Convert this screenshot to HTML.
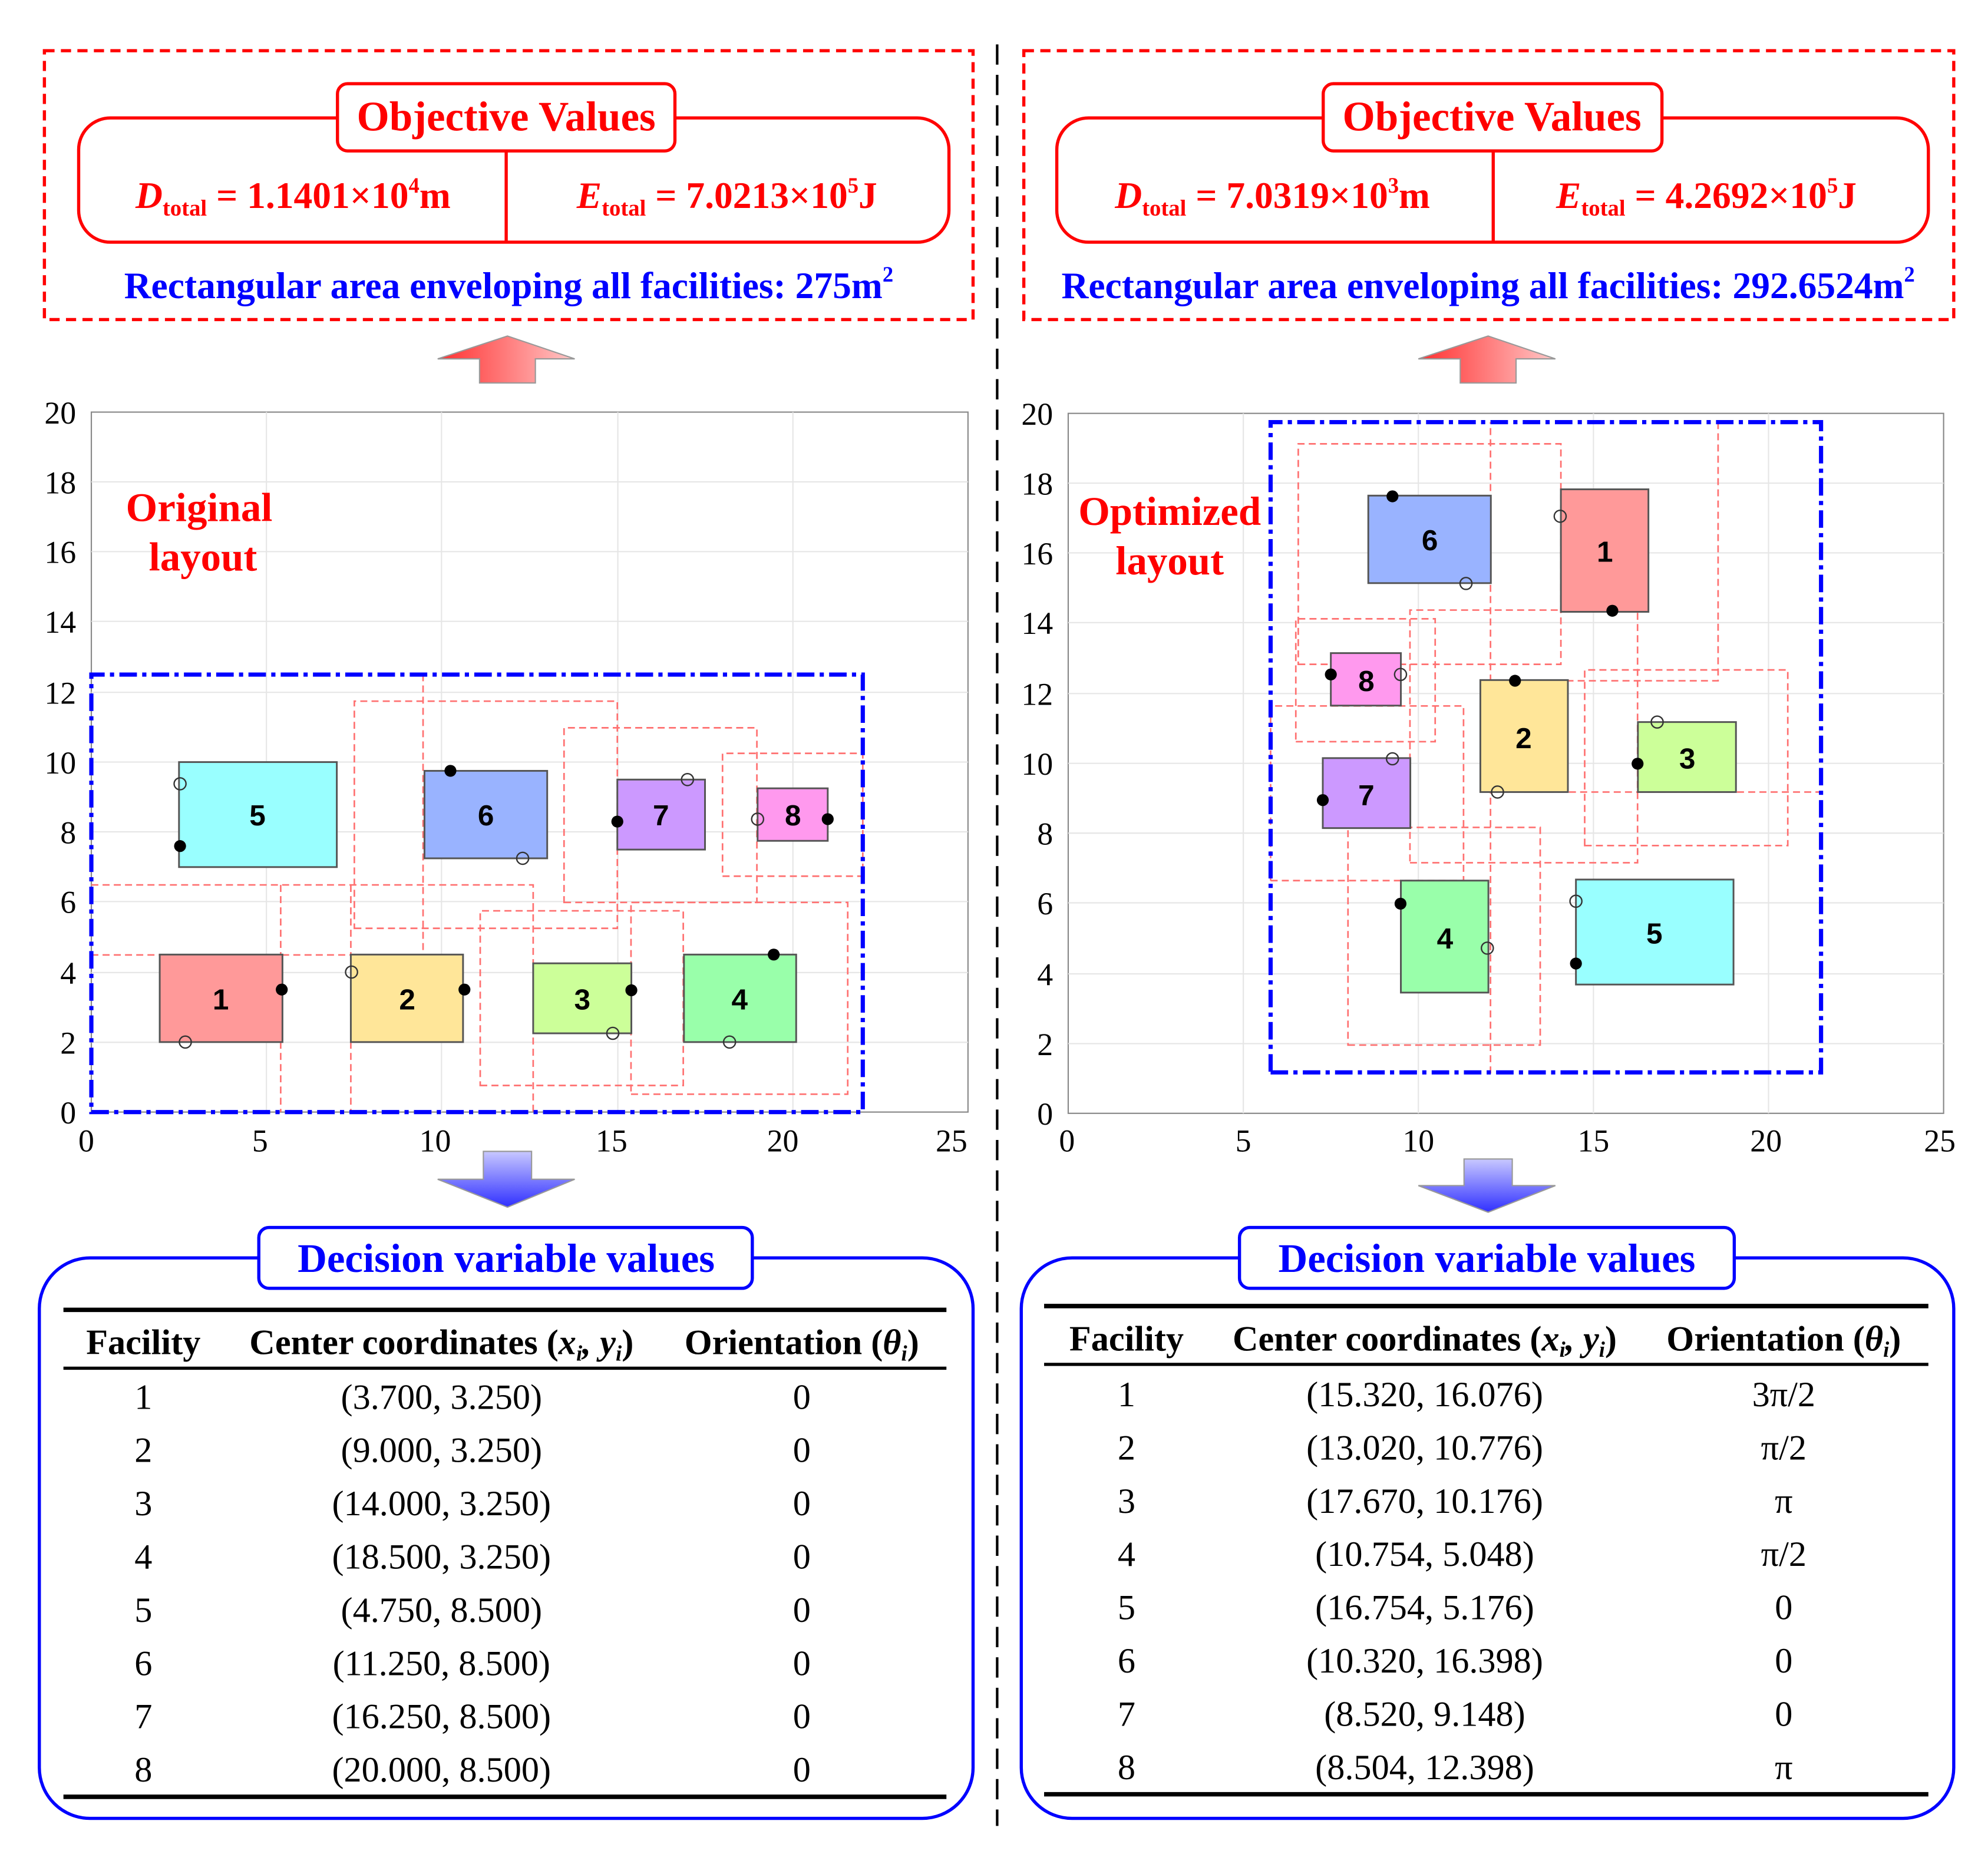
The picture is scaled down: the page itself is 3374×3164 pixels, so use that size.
<!DOCTYPE html>
<html><head><meta charset="utf-8"><style>
html,body{margin:0;padding:0;background:#fff;}
svg{display:block;}
.t{font-family:"Liberation Serif",serif;}
</style></head><body>
<svg width="3374" height="3164" viewBox="0 0 1567 1470" preserveAspectRatio="none" xmlns="http://www.w3.org/2000/svg" class="t">
<defs>
<linearGradient id="rg" x1="0" x2="1" y1="0" y2="0"><stop offset="0" stop-color="#ff3030"/><stop offset="1" stop-color="#ffc8c8"/></linearGradient>
<linearGradient id="bg" x1="0" x2="0" y1="0" y2="1"><stop offset="0" stop-color="#c8c8ff"/><stop offset="1" stop-color="#3030ff"/></linearGradient>
</defs>
<rect width="1567" height="1470" fill="#fff"/>
<line x1="786" y1="35" x2="786" y2="1440" stroke="#000" stroke-width="2" stroke-dasharray="16,8"/>

<!-- TOP LEFT -->
<rect x="35" y="40" width="732" height="212" fill="none" stroke="#f00" stroke-width="2.5" stroke-dasharray="8,5"/>
<rect x="62" y="93" width="686" height="98" rx="25" fill="none" stroke="#f00" stroke-width="2.5"/>
<line x1="399" y1="119" x2="399" y2="191" stroke="#f00" stroke-width="2.5"/>
<rect x="266" y="66" width="266" height="53" rx="8" fill="#fff" stroke="#f00" stroke-width="2.5"/>
<text x="399" y="103" text-anchor="middle" font-size="33" font-weight="bold" fill="#f00">Objective Values</text>
<text x="231" y="164" text-anchor="middle" font-size="29.5" font-weight="bold" fill="#f00"><tspan font-style="italic">D</tspan><tspan font-size="18" dy="6">total</tspan><tspan dy="-6"> = 1.1401×10</tspan><tspan font-size="17" dy="-12">4</tspan><tspan dy="12">m</tspan></text>
<text x="573" y="164" text-anchor="middle" font-size="29.5" font-weight="bold" fill="#f00"><tspan font-style="italic">E</tspan><tspan font-size="18" dy="6">total</tspan><tspan dy="-6"> = 7.0213×10</tspan><tspan font-size="17" dy="-12">5</tspan><tspan dy="12">J</tspan></text>
<text x="401" y="235" text-anchor="middle" font-size="29.5" font-weight="bold" fill="#00f">Rectangular area enveloping all facilities: 275m<tspan font-size="17" dy="-13">2</tspan></text>

<!-- TOP RIGHT -->
<rect x="807" y="40" width="733" height="212" fill="none" stroke="#f00" stroke-width="2.5" stroke-dasharray="8,5"/>
<rect x="833" y="93" width="687" height="98" rx="25" fill="none" stroke="#f00" stroke-width="2.5"/>
<line x1="1177" y1="119" x2="1177" y2="191" stroke="#f00" stroke-width="2.5"/>
<rect x="1043" y="66" width="267" height="53" rx="8" fill="#fff" stroke="#f00" stroke-width="2.5"/>
<text x="1176" y="103" text-anchor="middle" font-size="33" font-weight="bold" fill="#f00">Objective Values</text>
<text x="1003" y="164" text-anchor="middle" font-size="29.5" font-weight="bold" fill="#f00"><tspan font-style="italic">D</tspan><tspan font-size="18" dy="6">total</tspan><tspan dy="-6"> = 7.0319×10</tspan><tspan font-size="17" dy="-12">3</tspan><tspan dy="12">m</tspan></text>
<text x="1345" y="164" text-anchor="middle" font-size="29.5" font-weight="bold" fill="#f00"><tspan font-style="italic">E</tspan><tspan font-size="18" dy="6">total</tspan><tspan dy="-6"> = 4.2692×10</tspan><tspan font-size="17" dy="-12">5</tspan><tspan dy="12">J</tspan></text>
<text x="1173" y="235" text-anchor="middle" font-size="29.5" font-weight="bold" fill="#00f">Rectangular area enveloping all facilities: 292.6524m<tspan font-size="17" dy="-13">2</tspan></text>

<!-- arrows -->
<polygon points="400,265 453,283 422,283 422,302 378,302 378,283 345,283" fill="url(#rg)" stroke="#999" stroke-width="1"/>
<polygon points="1173,265 1226,283 1195,283 1195,302 1151,302 1151,283 1118,283" fill="url(#rg)" stroke="#999" stroke-width="1"/>
<polygon points="381,908 419,908 419,930 453,930 400,952 345,930 381,930" fill="url(#bg)" stroke="#999" stroke-width="1"/>
<polygon points="1154,914 1192,914 1192,935 1226,935 1173,956 1118,935 1154,935" fill="url(#bg)" stroke="#999" stroke-width="1"/>

<!-- LEFT PLOT -->
<g font-size="25" fill="#000">
<rect x="72" y="325" width="691" height="552" fill="#fff" stroke="#888" stroke-width="1"/>
<g stroke="#e6e6e6" stroke-width="1">
<line x1="210" y1="325" x2="210" y2="877"/><line x1="348" y1="325" x2="348" y2="877"/><line x1="487" y1="325" x2="487" y2="877"/><line x1="625" y1="325" x2="625" y2="877"/>
<line x1="72" y1="380" x2="763" y2="380"/><line x1="72" y1="435" x2="763" y2="435"/><line x1="72" y1="490" x2="763" y2="490"/><line x1="72" y1="546" x2="763" y2="546"/><line x1="72" y1="601" x2="763" y2="601"/><line x1="72" y1="656" x2="763" y2="656"/><line x1="72" y1="711" x2="763" y2="711"/><line x1="72" y1="767" x2="763" y2="767"/><line x1="72" y1="822" x2="763" y2="822"/>
</g>
<g text-anchor="end">
<text x="60" y="886">0</text><text x="60" y="831">2</text><text x="60" y="776">4</text><text x="60" y="720">6</text><text x="60" y="665">8</text><text x="60" y="610">10</text><text x="60" y="555">12</text><text x="60" y="499">14</text><text x="60" y="444">16</text><text x="60" y="389">18</text><text x="60" y="334">20</text>
</g>
<g text-anchor="middle">
<text x="68" y="908">0</text><text x="205" y="908">5</text><text x="343" y="908">10</text><text x="482" y="908">15</text><text x="617" y="908">20</text><text x="750" y="908">25</text>
</g>
</g>
<text x="157" y="411" text-anchor="middle" font-size="32" font-weight="bold" fill="#f00">Original</text>
<text x="160" y="450" text-anchor="middle" font-size="32" font-weight="bold" fill="#f00">layout</text>

<g transform="translate(72,877) scale(27.64,-27.6)">
 <g fill="none" stroke="#ff7070" stroke-width="0.045" stroke-dasharray="0.2,0.12">
  <rect x="7.5" y="5.25" width="7.5" height="6.49"/>
  <rect x="13.48" y="5.99" width="5.5" height="4.99"/>
  <rect x="18" y="6.74" width="4" height="3.51"/>
  <polyline points="0,6.49 12.6,6.49 12.6,0"/>
  <polyline points="0,4.49 9.46,4.49 9.46,12.5"/>
  <line x1="5.4" y1="6.49" x2="5.4" y2="0"/>
  <line x1="7.4" y1="6.49" x2="7.4" y2="0"/>
  <rect x="11.09" y="0.76" width="5.79" height="4.99"/>
  <rect x="15.39" y="0.51" width="6.18" height="5.48"/>
 </g>
 <g stroke="#555" stroke-width="0.05">
  <rect x="1.95" y="2" width="3.5" height="2.5" fill="#ff9999"/>
  <rect x="7.4" y="2" width="3.2" height="2.5" fill="#ffe699"/>
  <rect x="12.6" y="2.25" width="2.8" height="2" fill="#ccff99"/>
  <rect x="16.9" y="2" width="3.2" height="2.5" fill="#99ffaa"/>
  <rect x="2.5" y="7" width="4.5" height="3" fill="#99ffff"/>
  <rect x="9.5" y="7.25" width="3.5" height="2.5" fill="#99b3ff"/>
  <rect x="15" y="7.5" width="2.5" height="2" fill="#cc99ff"/>
  <rect x="19" y="7.75" width="2" height="1.5" fill="#ff99ee"/>
 </g>
 <rect x="0" y="0" width="22" height="12.5" fill="none" stroke="#00f" stroke-width="0.12" stroke-dasharray="0.5,0.15,0.12,0.15"/>
 <g fill="#000">
  <circle cx="2.53" cy="7.6" r="0.17"/><circle cx="10.24" cy="9.75" r="0.17"/><circle cx="15.0" cy="8.3" r="0.17"/><circle cx="21.0" cy="8.37" r="0.17"/>
  <circle cx="5.43" cy="3.5" r="0.17"/><circle cx="10.64" cy="3.5" r="0.17"/><circle cx="15.4" cy="3.48" r="0.17"/><circle cx="19.46" cy="4.5" r="0.17"/>
 </g>
 <g fill="none" stroke="#333" stroke-width="0.04">
  <circle cx="2.53" cy="9.38" r="0.17"/><circle cx="12.3" cy="7.25" r="0.17"/><circle cx="17.0" cy="9.5" r="0.17"/><circle cx="19.0" cy="8.37" r="0.17"/>
  <circle cx="2.68" cy="2.0" r="0.17"/><circle cx="7.42" cy="4.0" r="0.17"/><circle cx="14.87" cy="2.25" r="0.17"/><circle cx="18.2" cy="2.0" r="0.17"/>
 </g>
</g>
<g font-family="Liberation Sans,sans-serif" font-weight="bold" font-size="23" text-anchor="middle">
<text x="174" y="796">1</text><text x="321" y="796">2</text><text x="459" y="796">3</text><text x="583" y="796">4</text>
<text x="203" y="651">5</text><text x="383" y="651">6</text><text x="521" y="651">7</text><text x="625" y="651">8</text>
</g>

<!-- RIGHT PLOT -->
<g font-size="25" fill="#000">
<rect x="842" y="326" width="690" height="552" fill="#fff" stroke="#888" stroke-width="1"/>
<g stroke="#e6e6e6" stroke-width="1">
<line x1="980" y1="326" x2="980" y2="878"/><line x1="1118" y1="326" x2="1118" y2="878"/><line x1="1256" y1="326" x2="1256" y2="878"/><line x1="1394" y1="326" x2="1394" y2="878"/>
<line x1="842" y1="381" x2="1532" y2="381"/><line x1="842" y1="436" x2="1532" y2="436"/><line x1="842" y1="491" x2="1532" y2="491"/><line x1="842" y1="547" x2="1532" y2="547"/><line x1="842" y1="602" x2="1532" y2="602"/><line x1="842" y1="657" x2="1532" y2="657"/><line x1="842" y1="712" x2="1532" y2="712"/><line x1="842" y1="768" x2="1532" y2="768"/><line x1="842" y1="823" x2="1532" y2="823"/>
</g>
<g text-anchor="end">
<text x="830" y="887">0</text><text x="830" y="832">2</text><text x="830" y="777">4</text><text x="830" y="721">6</text><text x="830" y="666">8</text><text x="830" y="611">10</text><text x="830" y="556">12</text><text x="830" y="500">14</text><text x="830" y="445">16</text><text x="830" y="390">18</text><text x="830" y="335">20</text>
</g>
<g text-anchor="middle">
<text x="841" y="908">0</text><text x="980" y="908">5</text><text x="1118" y="908">10</text><text x="1256" y="908">15</text><text x="1392" y="908">20</text><text x="1529" y="908">25</text>
</g>
</g>
<g transform="translate(842,878) scale(27.6,-27.6)">
 <g fill="none" stroke="#ff7070" stroke-width="0.045" stroke-dasharray="0.2,0.12">
  <rect x="6.57" y="12.83" width="7.5" height="6.3"/>
  <polyline points="12.06,1.14 12.06,19.75"/>
  <polyline points="18.56,19.75 18.56,12.36 14.0,12.36"/>
  <rect x="6.5" y="10.62" width="3.98" height="3.51"/>
  <rect x="9.76" y="7.16" width="6.5" height="7.22"/>
  <rect x="14.75" y="7.65" width="5.8" height="5.02"/>
  <rect x="5.78" y="6.65" width="5.51" height="4.99"/>
  <rect x="7.99" y="1.95" width="5.49" height="6.22"/>
  <polyline points="12.06,9.18 21.46,9.18"/>
 </g>
 <g stroke="#555" stroke-width="0.05">
  <rect x="14.07" y="14.33" width="2.5" height="3.5" fill="#ff9999"/>
  <rect x="11.77" y="9.18" width="2.5" height="3.2" fill="#ffe699"/>
  <rect x="16.27" y="9.18" width="2.8" height="2" fill="#ccff99"/>
  <rect x="9.5" y="3.45" width="2.5" height="3.2" fill="#99ffaa"/>
  <rect x="14.5" y="3.68" width="4.5" height="3" fill="#99ffff"/>
  <rect x="8.57" y="15.15" width="3.5" height="2.5" fill="#99b3ff"/>
  <rect x="7.27" y="8.15" width="2.5" height="2" fill="#cc99ff"/>
  <rect x="7.5" y="11.65" width="2" height="1.5" fill="#ff99ee"/>
 </g>
 <rect x="5.78" y="1.17" width="15.72" height="18.58" fill="none" stroke="#00f" stroke-width="0.12" stroke-dasharray="0.5,0.15,0.12,0.15"/>
 <g fill="#000">
  <circle cx="9.26" cy="17.63" r="0.17"/><circle cx="15.54" cy="14.36" r="0.17"/><circle cx="7.5" cy="12.54" r="0.17"/><circle cx="12.76" cy="12.36" r="0.17"/>
  <circle cx="16.26" cy="9.99" r="0.17"/><circle cx="7.27" cy="8.95" r="0.17"/><circle cx="9.49" cy="5.99" r="0.17"/><circle cx="14.5" cy="4.28" r="0.17"/>
 </g>
 <g fill="none" stroke="#333" stroke-width="0.04">
  <circle cx="11.36" cy="15.14" r="0.17"/><circle cx="14.05" cy="17.06" r="0.17"/><circle cx="9.49" cy="12.54" r="0.17"/><circle cx="12.26" cy="9.18" r="0.17"/>
  <circle cx="16.82" cy="11.18" r="0.17"/><circle cx="9.26" cy="10.13" r="0.17"/><circle cx="11.97" cy="4.72" r="0.17"/><circle cx="14.5" cy="6.06" r="0.17"/>
 </g>
</g>
<text x="922" y="414" text-anchor="middle" font-size="32" font-weight="bold" fill="#f00">Optimized</text>
<text x="922" y="453" text-anchor="middle" font-size="32" font-weight="bold" fill="#f00">layout</text>
<g font-family="Liberation Sans,sans-serif" font-weight="bold" font-size="23" text-anchor="middle">
<text x="1265" y="443">1</text><text x="1201" y="590">2</text><text x="1330" y="606">3</text><text x="1139" y="748">4</text>
<text x="1304" y="744">5</text><text x="1127" y="434">6</text><text x="1077" y="635">7</text><text x="1077" y="545">8</text>
</g>

<!-- BOTTOM LEFT -->
<rect x="31" y="992" width="736" height="442" rx="40" fill="none" stroke="#00f" stroke-width="2.5"/>
<rect x="204" y="968" width="389" height="48" rx="8" fill="#fff" stroke="#00f" stroke-width="2.5"/>
<text x="399" y="1003" text-anchor="middle" font-size="32" font-weight="bold" fill="#00f">Decision variable values</text>
<line x1="50" y1="1033" x2="746" y2="1033" stroke="#000" stroke-width="3.5"/>
<line x1="50" y1="1079" x2="746" y2="1079" stroke="#000" stroke-width="2.5"/>
<line x1="50" y1="1417" x2="746" y2="1417" stroke="#000" stroke-width="3.5"/>
<g font-size="28" text-anchor="middle" fill="#000">
<text x="113" y="1068" font-weight="bold">Facility</text>
<text x="348" y="1068" font-weight="bold">Center coordinates (<tspan font-style="italic">x<tspan font-size="17" dy="5">i</tspan><tspan dy="-5">, y</tspan><tspan font-size="17" dy="5">i</tspan></tspan><tspan dy="-5">)</tspan></text>
<text x="632" y="1068" font-weight="bold">Orientation (<tspan font-style="italic">θ<tspan font-size="17" dy="5">i</tspan></tspan><tspan dy="-5">)</tspan></text>
<text x="113" y="1111">1</text><text x="348" y="1111">(3.700, 3.250)</text><text x="632" y="1111">0</text>
<text x="113" y="1153">2</text><text x="348" y="1153">(9.000, 3.250)</text><text x="632" y="1153">0</text>
<text x="113" y="1195">3</text><text x="348" y="1195">(14.000, 3.250)</text><text x="632" y="1195">0</text>
<text x="113" y="1237">4</text><text x="348" y="1237">(18.500, 3.250)</text><text x="632" y="1237">0</text>
<text x="113" y="1279">5</text><text x="348" y="1279">(4.750, 8.500)</text><text x="632" y="1279">0</text>
<text x="113" y="1321">6</text><text x="348" y="1321">(11.250, 8.500)</text><text x="632" y="1321">0</text>
<text x="113" y="1363">7</text><text x="348" y="1363">(16.250, 8.500)</text><text x="632" y="1363">0</text>
<text x="113" y="1405">8</text><text x="348" y="1405">(20.000, 8.500)</text><text x="632" y="1405">0</text>
</g>

<!-- BOTTOM RIGHT -->
<rect x="805" y="992" width="735" height="442" rx="40" fill="none" stroke="#00f" stroke-width="2.5"/>
<rect x="977" y="968" width="390" height="48" rx="8" fill="#fff" stroke="#00f" stroke-width="2.5"/>
<text x="1172" y="1003" text-anchor="middle" font-size="32" font-weight="bold" fill="#00f">Decision variable values</text>
<line x1="823" y1="1030" x2="1520" y2="1030" stroke="#000" stroke-width="3.5"/>
<line x1="823" y1="1076" x2="1520" y2="1076" stroke="#000" stroke-width="2.5"/>
<line x1="823" y1="1415" x2="1520" y2="1415" stroke="#000" stroke-width="3.5"/>
<g font-size="28" text-anchor="middle" fill="#000">
<text x="888" y="1065" font-weight="bold">Facility</text>
<text x="1123" y="1065" font-weight="bold">Center coordinates (<tspan font-style="italic">x<tspan font-size="17" dy="5">i</tspan><tspan dy="-5">, y</tspan><tspan font-size="17" dy="5">i</tspan></tspan><tspan dy="-5">)</tspan></text>
<text x="1406" y="1065" font-weight="bold">Orientation (<tspan font-style="italic">θ<tspan font-size="17" dy="5">i</tspan></tspan><tspan dy="-5">)</tspan></text>
<text x="888" y="1109">1</text><text x="1123" y="1109">(15.320, 16.076)</text><text x="1406" y="1109">3π/2</text>
<text x="888" y="1151">2</text><text x="1123" y="1151">(13.020, 10.776)</text><text x="1406" y="1151">π/2</text>
<text x="888" y="1193">3</text><text x="1123" y="1193">(17.670, 10.176)</text><text x="1406" y="1193">π</text>
<text x="888" y="1235">4</text><text x="1123" y="1235">(10.754, 5.048)</text><text x="1406" y="1235">π/2</text>
<text x="888" y="1277">5</text><text x="1123" y="1277">(16.754, 5.176)</text><text x="1406" y="1277">0</text>
<text x="888" y="1319">6</text><text x="1123" y="1319">(10.320, 16.398)</text><text x="1406" y="1319">0</text>
<text x="888" y="1361">7</text><text x="1123" y="1361">(8.520, 9.148)</text><text x="1406" y="1361">0</text>
<text x="888" y="1403">8</text><text x="1123" y="1403">(8.504, 12.398)</text><text x="1406" y="1403">π</text>
</g>
</svg>
</body></html>
